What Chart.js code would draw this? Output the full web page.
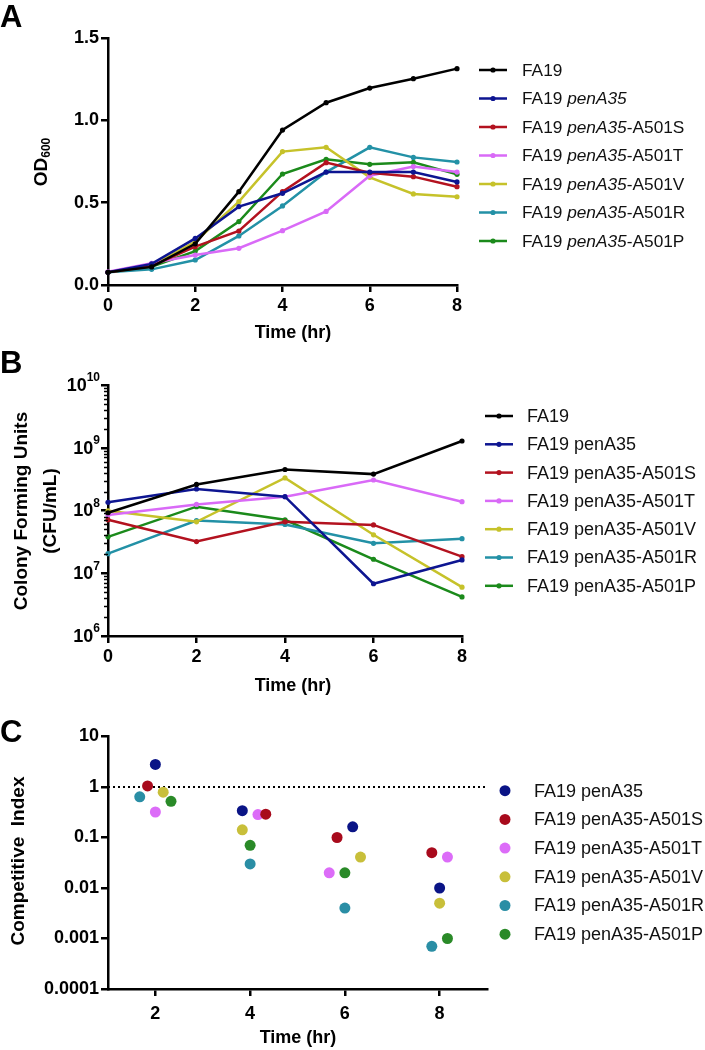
<!DOCTYPE html>
<html>
<head>
<meta charset="utf-8">
<script src="https://cdn.jsdelivr.net/npm/chart.js@4/dist/chart.umd.min.js"></script>
<style>
  html, body { margin: 0; padding: 0; background: #fff; }
  #wrap { position: relative; width: 705px; height: 1050px; }
  .panel { position: absolute; left: 0; width: 705px; }
  #pA { top: 0; height: 345px; }
  #pB { top: 345px; height: 355px; }
  #pC { top: 700px; height: 350px; }
</style>
</head>
<body>
<div id="wrap">
  <div class="panel" id="pA"><canvas id="chartA" width="705" height="345"></canvas></div>
  <div class="panel" id="pB"><canvas id="chartB" width="705" height="355"></canvas></div>
  <div class="panel" id="pC"><canvas id="chartC" width="705" height="350"></canvas></div>
</div>
<script>
// ---- Dados ----------------------------------------------------------
// Painel A: OD600 por hora
const HOURS_A = [0, 1, 2, 3, 4, 5, 6, 7, 8];
const OD_FA19   = [0.077, 0.11, 0.25, 0.567, 0.941, 1.107, 1.196, 1.253, 1.314];
const OD_PENA35 = [0.077, 0.128, 0.283, 0.476, 0.557, 0.686, 0.686, 0.686, 0.626];
const OD_A501S  = [0.077, 0.115, 0.233, 0.328, 0.567, 0.743, 0.682, 0.658, 0.597];
const OD_A501T  = [0.08, 0.132, 0.182, 0.223, 0.33, 0.447, 0.664, 0.719, 0.686];
const OD_A501V  = [0.077, 0.115, 0.263, 0.506, 0.81, 0.836, 0.654, 0.553, 0.536];
const OD_A501R  = [0.077, 0.095, 0.152, 0.298, 0.48, 0.686, 0.836, 0.775, 0.747];
const OD_A501P  = [0.077, 0.111, 0.206, 0.385, 0.674, 0.763, 0.733, 0.745, 0.672];

// Painel B: CFU/mL
const HOURS_B = [0, 2, 4, 6, 8];
const CFU_FA19   = [9.2e7, 2.6e8, 4.5e8, 3.8e8, 1.28e9];
const CFU_PENA35 = [1.35e8, 2.2e8, 1.66e8, 6.8e6, 1.63e7];
const CFU_A501S  = [7.1e7, 3.2e7, 6.6e7, 5.9e7, 1.84e7];
const CFU_A501T  = [8.5e7, 1.25e8, 1.66e8, 3.06e8, 1.38e8];
const CFU_A501V  = [9.9e7, 6.6e7, 3.3e8, 4.1e7, 6.0e6];
const CFU_A501R  = [2.05e7, 6.9e7, 6.0e7, 3.0e7, 3.56e7];
const CFU_A501P  = [3.8e7, 1.15e8, 7.1e7, 1.67e7, 4.2e6];

// Painel C: índice competitivo
const HOURS_C = [2, 4, 6, 8];
const CI_PENA35 = [2.8, 0.34, 0.163, 0.010];
const CI_A501S  = [1.05, 0.29, 0.10, 0.050];
const CI_A501T  = [0.32, 0.285, 0.020, 0.041];
const CI_A501V  = [0.79, 0.142, 0.041, 0.005];
const CI_A501R  = [0.64, 0.030, 0.004, 0.0007];
const CI_A501P  = [0.52, 0.070, 0.020, 0.001];
const CI_REFERENCE = 1;

const STRAINS = ['FA19', 'FA19 penA35', 'FA19 penA35-A501S', 'FA19 penA35-A501T',
                 'FA19 penA35-A501V', 'FA19 penA35-A501R', 'FA19 penA35-A501P'];

const A_Y_TICKS = [0, 0.5, 1.0, 1.5];
const B_Y_EXPONENTS = [6, 7, 8, 9, 10];
const C_Y_TICKS = [0.0001, 0.001, 0.01, 0.1, 1, 10];
const C_Y_LABELS = ['0.0001', '0.001', '0.01', '0.1', '1', '10'];
const C_X_TICKS = [2, 4, 6, 8];

// ---- Estilo ---------------------------------------------------------
const FONT = "'Liberation Sans', Arial, Helvetica, sans-serif";
const LINE_COLORS = ['#000000', '#0d1591', '#b3121f', '#d96af7', '#c6c22a', '#2391a6', '#1b8a1b'];
const DOT_COLORS  = ['#0a1486', '#a80a1c', '#dc6cf8', '#c8bf3a', '#2a8ea5', '#2a8a28'];
// deslocamento horizontal (jitter) dos pontos do painel C, em passos
const JITTER_STEP = 0.165;
const JITTER = [[0, -1, 1, 0], [-1, 2, -1, -1], [0, 1, -2, 1], [1, -1, 2, 0], [-2, 0, 0, -1], [2, 0, 0, 1]];

Chart.defaults.font.family = FONT;
Chart.defaults.color = '#000';
Chart.defaults.animation = false;

function axisBase(extra) {
  return Object.assign({
    border: { display: true, color: '#000', width: 2.5 },
    grid: { display: true, drawOnChartArea: false, drawTicks: true, tickLength: 7, color: '#000', lineWidth: 2.5 },
    ticks: { color: '#000', font: { family: FONT, size: 18, weight: 'bold' } },
  }, extra);
}

// texto com partes (itálico, subscrito...)
function drawParts(ctx, parts, x, y, align) {
  let total = 0;
  parts.forEach(p => { ctx.font = p.font; total += ctx.measureText(p.t).width; });
  let cx = align === 'center' ? x - total / 2 : (align === 'right' ? x - total : x);
  ctx.textAlign = 'left';
  parts.forEach(p => {
    ctx.font = p.font;
    ctx.fillText(p.t, cx, y + (p.dy || 0));
    cx += ctx.measureText(p.t).width;
  });
}

function legendParts(name, italic, size) {
  const reg = size + 'px ' + FONT, it = 'italic ' + size + 'px ' + FONT;
  const m = name.match(/^(FA19 )(penA35)(.*)$/);
  if (!m) return [{ t: name, font: reg }];
  return [{ t: m[1], font: reg }, { t: m[2], font: italic ? it : reg }, { t: m[3], font: reg }];
}

function makeDecor(cfg) {
  return {
    id: 'decor',
    afterDraw(chart) {
      const ctx = chart.ctx;
      ctx.save();
      ctx.fillStyle = '#000';
      ctx.textBaseline = 'alphabetic';
      // letra do painel
      ctx.font = 'bold 31px ' + FONT;
      ctx.textAlign = 'left';
      ctx.fillText(cfg.letter, 0, cfg.letterY);
      // título do eixo x
      ctx.font = 'bold 18px ' + FONT;
      ctx.textAlign = 'center';
      ctx.fillText('Time (hr)', cfg.xTitleX, cfg.xTitleY);
      // título do eixo y (rotacionado)
      cfg.yTitle.forEach(line => {
        ctx.save();
        ctx.translate(line.x, line.y);
        ctx.rotate(-Math.PI / 2);
        ctx.textBaseline = 'middle';
        drawParts(ctx, line.parts, 0, 0, 'center');
        ctx.restore();
      });
      // legenda
      const lg = cfg.legend;
      lg.items.forEach((it, i) => {
        const y = lg.y0 + i * lg.dy;
        ctx.fillStyle = it.color;
        ctx.strokeStyle = it.color;
        if (lg.marker === 'line') {
          ctx.lineWidth = 2.5;
          ctx.beginPath(); ctx.moveTo(lg.x0, y); ctx.lineTo(lg.x1, y); ctx.stroke();
          ctx.beginPath(); ctx.arc((lg.x0 + lg.x1) / 2, y, 2.6, 0, Math.PI * 2); ctx.fill();
        } else {
          ctx.beginPath(); ctx.arc(lg.x0, y, 5.5, 0, Math.PI * 2); ctx.fill();
        }
        ctx.fillStyle = '#111';
        ctx.textBaseline = 'middle';
        drawParts(ctx, legendParts(it.name, lg.italic, lg.size), lg.textX, y + 1, 'left');
      });
      if (cfg.extra) cfg.extra(chart, ctx);
      ctx.restore();
    }
  };
}

function lineSet(label, data, color) {
  return {
    label, data, borderColor: color, backgroundColor: color,
    borderWidth: 2.5, pointRadius: 2.6, pointBorderWidth: 0, pointBackgroundColor: color,
    tension: 0, clip: false,
  };
}

// ---- Painel A -------------------------------------------------------
const OD_SERIES = [OD_FA19, OD_PENA35, OD_A501S, OD_A501T, OD_A501V, OD_A501R, OD_A501P];
new Chart(document.getElementById('chartA'), {
  type: 'line',
  data: {
    labels: HOURS_A,
    datasets: OD_SERIES.map((s, i) => lineSet(STRAINS[i], s.map((v, j) => ({ x: HOURS_A[j], y: v })), LINE_COLORS[i])),
  },
  options: {
    responsive: false,
    layout: { padding: { left: 0, top: 38, right: 248, bottom: 0 } },
    plugins: { legend: { display: false }, tooltip: { enabled: false } },
    scales: {
      x: axisBase({ type: 'linear', min: 0, max: 8,
        ticks: { stepSize: 2, padding: 3, color: '#000', font: { family: FONT, size: 18, weight: 'bold' } },
        afterFit: s => { s.height = 60; } }),
      y: axisBase({ type: 'linear', min: 0, max: 1.5,
        afterBuildTicks: s => { s.ticks = A_Y_TICKS.map(v => ({ value: v })); },
        ticks: { padding: 2, color: '#000', font: { family: FONT, size: 18, weight: 'bold' }, callback: v => v.toFixed(1) },
        afterFit: s => { s.width = 108; } }),
    },
  },
  plugins: [makeDecor({
    letter: 'A', letterY: 27, xTitleX: 293, xTitleY: 338,
    yTitle: [{ x: 42, y: 162, parts: [
      { t: 'OD', font: 'bold 19px ' + FONT },
      { t: '600', font: 'bold 12px ' + FONT, dy: 5 }] }],
    legend: { marker: 'line', italic: true, size: 17.3, x0: 479, x1: 507, textX: 522, y0: 70, dy: 28.5,
      items: STRAINS.map((n, i) => ({ name: n, color: LINE_COLORS[i] })) },
  })],
});

// ---- Painel B -------------------------------------------------------
const CFU_SERIES = [CFU_FA19, CFU_PENA35, CFU_A501S, CFU_A501T, CFU_A501V, CFU_A501R, CFU_A501P];
new Chart(document.getElementById('chartB'), {
  type: 'line',
  data: {
    labels: HOURS_B,
    datasets: CFU_SERIES.map((s, i) => lineSet(STRAINS[i], s.map((v, j) => ({ x: HOURS_B[j], y: v })), LINE_COLORS[i])),
  },
  options: {
    responsive: false,
    layout: { padding: { left: 0, top: 40, right: 243, bottom: 0 } },
    plugins: { legend: { display: false }, tooltip: { enabled: false } },
    scales: {
      x: axisBase({ type: 'linear', min: 0, max: 8,
        ticks: { stepSize: 2, padding: 3, color: '#000', font: { family: FONT, size: 18, weight: 'bold' } },
        afterFit: s => { s.height = 64; } }),
      y: axisBase({ type: 'logarithmic', min: 1e6, max: 1e10,
        afterBuildTicks: s => { s.ticks = B_Y_EXPONENTS.map(e => ({ value: Math.pow(10, e) })); },
        ticks: { display: false },
        afterFit: s => { s.width = 108; } }),
    },
  },
  plugins: [makeDecor({
    letter: 'B', letterY: 28, xTitleX: 293, xTitleY: 346,
    yTitle: [
      { x: 22, y: 166, parts: [{ t: 'Colony Forming Units', font: 'bold 19px ' + FONT }] },
      { x: 51, y: 166, parts: [{ t: '(CFU/mL)', font: 'bold 19px ' + FONT }] }],
    legend: { marker: 'line', italic: false, size: 18, x0: 485, x1: 513, textX: 527, y0: 71, dy: 28.3,
      items: STRAINS.map((n, i) => ({ name: n, color: LINE_COLORS[i] })) },
    extra: (chart, ctx) => {
      const ys = chart.scales.y;
      const ax = chart.chartArea.left;
      // marcas menores do eixo log
      ctx.strokeStyle = '#000';
      ctx.lineWidth = 1.5;
      for (let e = B_Y_EXPONENTS[0]; e < B_Y_EXPONENTS[B_Y_EXPONENTS.length - 1]; e++) {
        for (let k = 2; k <= 9; k++) {
          const y = Math.round(ys.getPixelForValue(k * Math.pow(10, e))) + 0.5;
          ctx.beginPath(); ctx.moveTo(ax - 4, y); ctx.lineTo(ax, y); ctx.stroke();
        }
      }
      // rótulos 10^n
      ctx.fillStyle = '#000';
      ctx.textBaseline = 'middle';
      B_Y_EXPONENTS.forEach(e => {
        const y = ys.getPixelForValue(Math.pow(10, e));
        drawParts(ctx, [
          { t: '10', font: 'bold 18px ' + FONT, dy: 1 },
          { t: String(e), font: 'bold 12px ' + FONT, dy: -7 }], 100, y, 'right');
      });
    },
  })],
});

// ---- Painel C -------------------------------------------------------
const CI_SERIES = [CI_PENA35, CI_A501S, CI_A501T, CI_A501V, CI_A501R, CI_A501P];
const C_X_RANGE = [1, 9];
const cDatasets = CI_SERIES.map((s, i) => ({
  label: STRAINS[i + 1],
  data: s.map((v, j) => ({ x: HOURS_C[j] + JITTER[i][j] * JITTER_STEP, y: v })),
  backgroundColor: DOT_COLORS[i], borderWidth: 0, pointRadius: 5.5, clip: false,
}));
cDatasets.push({
  type: 'line', label: 'ref', data: C_X_RANGE.map(x => ({ x, y: CI_REFERENCE })),
  borderColor: '#000', borderWidth: 2, borderDash: [2, 3], pointRadius: 0, showLine: true, clip: false, order: 10,
});
new Chart(document.getElementById('chartC'), {
  type: 'scatter',
  data: { datasets: cDatasets },
  options: {
    responsive: false,
    layout: { padding: { left: 0, top: 36.5, right: 218, bottom: 0 } },
    plugins: { legend: { display: false }, tooltip: { enabled: false } },
    scales: {
      x: axisBase({ type: 'linear', min: C_X_RANGE[0], max: C_X_RANGE[1],
        afterBuildTicks: s => { s.ticks = C_X_TICKS.map(v => ({ value: v })); },
        ticks: { padding: 7, color: '#000', font: { family: FONT, size: 18, weight: 'bold' } },
        afterFit: s => { s.height = 61; } }),
      y: axisBase({ type: 'logarithmic', min: C_Y_TICKS[0], max: C_Y_TICKS[C_Y_TICKS.length - 1],
        afterBuildTicks: s => { s.ticks = C_Y_TICKS.map(v => ({ value: v })); },
        ticks: { padding: 2, color: '#000', font: { family: FONT, size: 18, weight: 'bold' }, callback: (v, i) => C_Y_LABELS[i] },
        afterFit: s => { s.width = 108; } }),
    },
  },
  plugins: [makeDecor({
    letter: 'C', letterY: 42, xTitleX: 298, xTitleY: 343,
    yTitle: [{ x: 19, y: 161, parts: [{ t: 'Competitive  Index', font: 'bold 19px ' + FONT }] }],
    legend: { marker: 'dot', italic: false, size: 18, x0: 505, textX: 534, y0: 90.7, dy: 28.7,
      items: STRAINS.slice(1).map((n, i) => ({ name: n, color: DOT_COLORS[i] })) },
  })],
});
</script>
</body>
</html>
